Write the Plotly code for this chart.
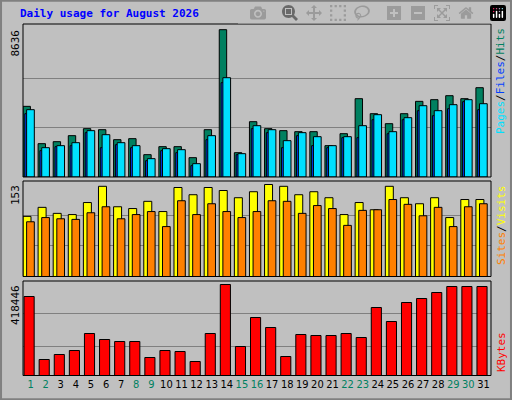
import plotly.graph_objects as go

days = list(range(1, 32))
hits_px = [258,370,364,346,325,328,358,355,403,379,379,412,328,28,397,304,325,331,334,334,376,340,235,280,310,280,243,238,226,235,202]
files_px = [268,382,376,367,331,343,367,376,415,385,388,430,346,172,400,316,328,361,337,349,376,349,316,283,334,292,256,271,253,238,250]
pages_px = [280,391,379,376,337,382,373,382,421,391,397,436,358,187,403,325,337,382,346,376,382,352,352,298,340,298,271,286,265,244,268]
visits_px = [124,97,115,118,82,34,94,100,79,109,37,58,37,46,67,49,28,34,58,49,67,118,82,103,34,67,85,67,127,73,73]
sites_px = [139,127,130,133,112,94,130,118,109,154,76,118,85,109,127,109,76,79,115,91,100,151,106,103,73,88,121,97,154,94,85]
kb_px = [364,553,538,526,475,493,499,499,547,526,529,559,475,328,514,427,457,544,478,481,481,475,487,397,439,382,370,352,334,334,334]

MAX_HITS, MAX_VISITS, MAX_KB = 8636, 153, 418446
hits = [round((470 - v) / 442 * MAX_HITS) for v in hits_px]
files = [round((470 - v) / 442 * MAX_HITS) for v in files_px]
pages = [round((470 - v) / 442 * MAX_HITS) for v in pages_px]
visits = [round((304 - v) / 276 * MAX_VISITS) for v in visits_px]
sites = [round((304 - v) / 276 * MAX_VISITS) for v in sites_px]
kbytes = [round((601 - v) / 273 * MAX_KB) for v in kb_px]

weekend = {1, 2, 8, 9, 15, 16, 22, 23, 29, 30}
ticktext = [f'<span style="color:{"#008060" if d in weekend else "black"}">{d}</span>' for d in days]

W, H = 512, 400
def yd(top, bot):
    return [1 - bot / H, 1 - top / H]

fig = go.Figure()
line = dict(color="black", width=1)
fig.add_bar(x=days, y=hits, offset=-0.5, width=0.49, marker=dict(color="#008060", line=line), xaxis="x", yaxis="y")
fig.add_bar(x=days, y=pages, offset=-0.38, width=0.4, marker=dict(color="#0040ff", line=line), xaxis="x", yaxis="y")
fig.add_bar(x=days, y=files, offset=-0.26, width=0.51, marker=dict(color="#00e0ff", line=line), xaxis="x", yaxis="y")
fig.add_bar(x=days, y=visits, offset=-0.5, width=0.53, marker=dict(color="#ffff00", line=line), xaxis="x2", yaxis="y2")
fig.add_bar(x=days, y=sites, offset=-0.26, width=0.51, marker=dict(color="#ff8000", line=line), xaxis="x2", yaxis="y2")
fig.add_bar(x=days, y=kbytes, offset=-0.43, width=0.67, marker=dict(color="#ff0000", line=line), xaxis="x3", yaxis="y3")

xdom = [23 / W, 491 / W]
xcommon = dict(range=[0.5, 31.5], domain=xdom, showgrid=False, zeroline=False, fixedrange=True)
fig.update_layout(
    width=W, height=H, margin=dict(l=0, r=0, t=0, b=0),
    paper_bgcolor="#c0c0c0", plot_bgcolor="#c0c0c0", showlegend=False, barmode="overlay",
    font=dict(family="DejaVu Sans Mono", size=11, color="black"),
    xaxis=dict(**xcommon, showticklabels=False, anchor="y"),
    xaxis2=dict(**xcommon, showticklabels=False, anchor="y2"),
    xaxis3=dict(**xcommon, anchor="y3", tickmode="array", tickvals=days, ticktext=ticktext, ticks="",
                tickangle=0, tickfont=dict(size=11, family="DejaVu Sans Condensed")),
    yaxis=dict(domain=yd(24, 177), range=[0, MAX_HITS * 153 / 147.3], tickvals=[MAX_HITS / 3, MAX_HITS * 2 / 3], showticklabels=False, gridcolor="#808080", zeroline=False),
    yaxis2=dict(domain=yd(181, 276.5), range=[0, MAX_VISITS * 95.5 / 92], tickvals=[MAX_VISITS / 3, MAX_VISITS * 2 / 3], showticklabels=False, gridcolor="#808080", zeroline=False),
    yaxis3=dict(domain=yd(281, 375.5), range=[0, MAX_KB * 94.5 / 91], tickvals=[MAX_KB * 0.32, MAX_KB * 0.68], showticklabels=False, gridcolor="#808080", zeroline=False),
)

shapes = [dict(type="rect", xref="paper", yref="paper", x0=0.002, x1=0.998, y0=0.002, y1=0.998, line=dict(color="#808080", width=2))]
for top, bot in [(24, 177), (181, 276.5), (281, 375.5)]:
    shapes.append(dict(type="rect", xref="paper", yref="paper", x0=xdom[0], x1=xdom[1], y0=1 - bot / H, y1=1 - top / H, line=dict(color="black", width=1)))
fig.update_layout(shapes=shapes)

ann = [dict(text="<b>Daily usage for August 2026</b>", x=18 / W, y=1 - 5 / H, xanchor="left", yanchor="top", font=dict(color="#0000ff", size=11))]
for lbl, top in [("8636", 28), ("153", 183), ("418446", 283)]:
    ann.append(dict(text=lbl, textangle=-90, x=15 / W, y=1 - top / H, xanchor="center", yanchor="top", font=dict(size=11)))
ann.append(dict(text='<span style="color:#00e0ff">Pages</span>/<span style="color:#0040ff">Files</span>/<span style="color:#008060">Hits</span>',
                textangle=-90, x=501 / W, y=1 - 26 / H, xanchor="center", yanchor="top"))
ann.append(dict(text='<span style="color:#ff8000">Sites</span>/<span style="color:#ffff00">Visits</span>',
                textangle=-90, x=501 / W, y=1 - 183 / H, xanchor="center", yanchor="top"))
ann.append(dict(text='<span style="color:#ff0000">KBytes</span>', textangle=-90, x=501 / W, y=1 - 374 / H, xanchor="center", yanchor="bottom"))
for a in ann:
    a.setdefault("xref", "paper"); a.setdefault("yref", "paper"); a.setdefault("showarrow", False)
fig.update_layout(annotations=ann)

fig.write_html("out.html", post_script="document.body.style.margin='0';document.body.style.overflow='hidden';")
